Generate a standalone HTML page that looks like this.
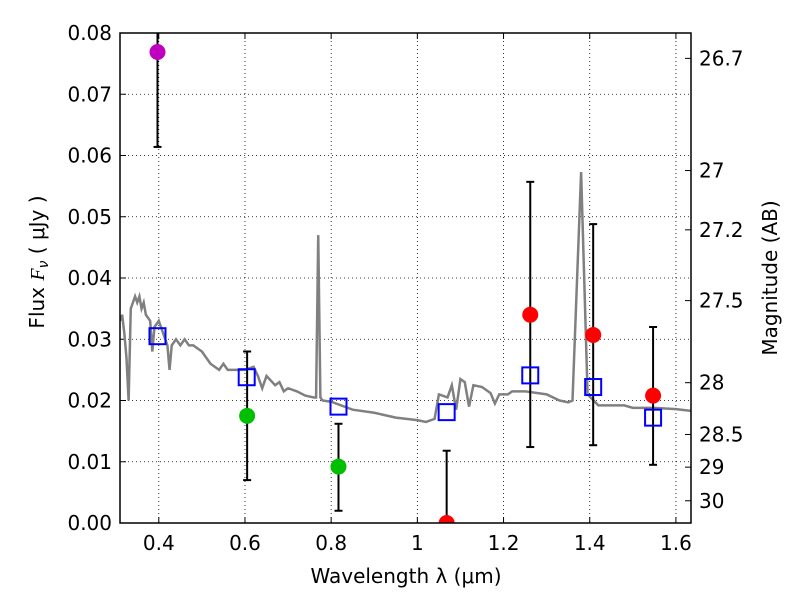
<!DOCTYPE html>
<html><head><meta charset="utf-8"><style>
body{margin:0;background:#fff}
text{font-family:"DejaVu Sans","Liberation Sans",sans-serif}
</style></head><body>
<svg id="chart" width="800" height="600" xmlns="http://www.w3.org/2000/svg"></svg>
<script>
const xTicks=[0.4,0.6,0.8,1.0,1.2,1.4,1.6];
const xTickLabels=["0.4","0.6","0.8","1","1.2","1.4","1.6"];
const yTicks=[0,0.01,0.02,0.03,0.04,0.05,0.06,0.07,0.08];
const yTickLabels=["0.00","0.01","0.02","0.03","0.04","0.05","0.06","0.07","0.08"];
const magTicks=[26.7,27,27.2,27.5,28,28.5,29,30];
const magTickLabels=["26.7","27","27.2","27.5","28","28.5","29","30"];
const specWave=[0.31,0.315,0.32,0.325,0.33,0.335,0.34,0.345,0.35,0.355,0.36,0.365,0.37,0.38,0.385,0.39,0.40,0.41,0.42,0.425,0.43,0.44,0.45,0.46,0.47,0.48,0.5,0.52,0.54,0.55,0.56,0.58,0.6,0.62,0.63,0.64,0.65,0.67,0.68,0.69,0.7,0.72,0.74,0.76,0.765,0.77,0.775,0.78,0.8,0.85,0.9,0.95,1.0,1.02,1.04,1.05,1.07,1.08,1.09,1.1,1.11,1.12,1.13,1.15,1.17,1.18,1.19,1.21,1.22,1.25,1.3,1.33,1.35,1.36,1.38,1.395,1.42,1.48,1.5,1.55,1.6,1.635];
const specFlux=[0.033,0.034,0.031,0.027,0.020,0.035,0.036,0.037,0.036,0.037,0.035,0.036,0.034,0.033,0.028,0.032,0.033,0.031,0.029,0.025,0.029,0.030,0.029,0.030,0.029,0.029,0.028,0.026,0.025,0.026,0.025,0.025,0.025,0.0255,0.024,0.022,0.024,0.0225,0.023,0.0215,0.022,0.0215,0.0208,0.0205,0.0205,0.047,0.0205,0.020,0.0198,0.0185,0.018,0.0172,0.0168,0.0165,0.017,0.021,0.0205,0.0225,0.0185,0.0235,0.023,0.019,0.0225,0.0222,0.0212,0.0195,0.021,0.021,0.0215,0.0215,0.021,0.020,0.0197,0.020,0.0573,0.021,0.0192,0.0192,0.0188,0.0188,0.0186,0.0183];
const ptWave=[0.397,0.605,0.817,1.068,1.262,1.408,1.547];
const ptFlux=[0.0769,0.0175,0.0092,0.0,0.034,0.0307,0.0208];
const ptLow=[0.0614,0.007,0.002,0.0,0.0124,0.0127,0.0095];
const ptHigh=[0.095,0.028,0.0162,0.0118,0.0557,0.0488,0.032];
const ptColor=["#bf00bf","#00bf00","#00bf00","red","red","red","red"];
const modWave=[0.397,0.604,0.817,1.068,1.262,1.408,1.547];
const modFlux=[0.0305,0.0238,0.019,0.0181,0.0241,0.0222,0.0172];

const L=120,R=691,T=33,B=523,xmin=0.31,xmax=1.635,ymin=0,ymax=0.08;
const X=v=>L+(v-xmin)/(xmax-xmin)*(R-L);
const Y=v=>B-(v-ymin)/(ymax-ymin)*(B-T);
const svg=document.getElementById('chart');
const NS="http://www.w3.org/2000/svg";
function mk(tag,attrs,parent){const e=document.createElementNS(NS,tag);for(const k in attrs)e.setAttribute(k,attrs[k]);(parent||svg).appendChild(e);return e;}
const defs=mk('defs',{});const cp=mk('clipPath',{id:'c'},defs);mk('rect',{x:L,y:T,width:R-L,height:B-T},cp);

xTicks.forEach((v,i)=>{
 const g=mk('line',{x1:X(v),x2:X(v),y1:T,y2:B,stroke:'#000','stroke-dasharray':'1,3','stroke-width':0.8});
 
 mk('line',{x1:X(v),x2:X(v),y1:B,y2:B-6,stroke:'#000'});mk('line',{x1:X(v),x2:X(v),y1:T,y2:T+6,stroke:'#000'});
 const t=mk('text',{x:X(v),y:B+27,'font-size':20,'text-anchor':'middle'});t.textContent=xTickLabels[i];
 
});
yTicks.forEach((v,i)=>{
 const g=mk('line',{x1:L,x2:R,y1:Y(v),y2:Y(v),stroke:'#000','stroke-dasharray':'1,3','stroke-width':0.8});
 
 mk('line',{x1:L,x2:L+6,y1:Y(v),y2:Y(v),stroke:'#000'});
 const t=mk('text',{x:112,y:Y(v)+7,'font-size':20,'text-anchor':'end'});t.textContent=yTickLabels[i];
 
});
magTicks.forEach((m,i)=>{
 const y=Y(Math.pow(10,(23.9-m)/2.5));
 mk('line',{x1:R,x2:R-6,y1:y,y2:y,stroke:'#000'});
 const t=mk('text',{x:699,y:y+7,'font-size':20});t.textContent=magTickLabels[i];
 
});
const sp=mk('polyline',{points:specWave.map((w,i)=>X(w)+','+Y(specFlux[i])).join(' '),fill:'none',stroke:'#808080','stroke-width':2.5,'clip-path':'url(#c)'});

ptWave.forEach((w,i)=>{
 const x=X(w);
 const e=mk('line',{x1:x,x2:x,y1:Y(ptLow[i]),y2:Y(ptHigh[i]),stroke:'#000','stroke-width':2,'clip-path':'url(#c)'});
 
 [ptLow[i],ptHigh[i]].forEach(v=>{if(v>0&&v<ymax)mk('line',{x1:x-4,x2:x+4,y1:Y(v),y2:Y(v),stroke:'#000','stroke-width':2});});
});
modWave.forEach((w,i)=>{
 const r=mk('rect',{x:X(w)-8,y:Y(modFlux[i])-8,width:16,height:16,fill:'none',stroke:'blue','stroke-width':2});
 
});
ptWave.forEach((w,i)=>{
 const c=mk('circle',{cx:X(w),cy:Y(ptFlux[i]),r:8,fill:ptColor[i],'clip-path':'url(#c)'});
 
});
const fr=mk('rect',{x:L,y:T,width:R-L,height:B-T,fill:'none',stroke:'#000','stroke-width':1.5});

const xt=mk('text',{x:406,y:583,'font-size':20,'text-anchor':'middle'});xt.textContent='Wavelength  λ (μm)';

const yt=mk('text',{x:0,y:0,'font-size':20,'text-anchor':'middle',transform:'translate(44,262) rotate(-90)'});
yt.innerHTML='Flux  <tspan font-style="italic" font-family="Liberation Serif">F</tspan><tspan font-style="italic" font-size="14" dy="4">ν</tspan><tspan dy="-4">  ( μJy )</tspan>';

const rt=mk('text',{x:0,y:0,'font-size':20,'text-anchor':'middle',transform:'translate(777,278) rotate(-90)'});rt.textContent='Magnitude (AB)';

</script>
</body></html>
